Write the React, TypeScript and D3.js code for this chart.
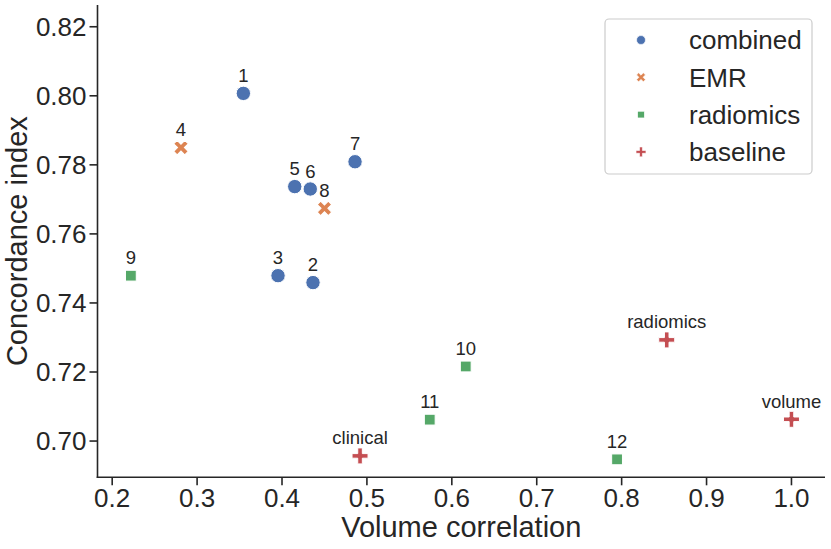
import * as d3 from "d3";
import * as React from "react";

// scatter data
const combinedLabels = ["1", "2", "3", "5", "6", "7"];
const combinedX = [0.3545, 0.4365, 0.3953, 0.415, 0.4333, 0.486];
const combinedY = [0.8007, 0.7459, 0.7479, 0.7737, 0.773, 0.7809];

const emrLabels = ["4", "8"];
const emrX = [0.281, 0.45];
const emrY = [0.785, 0.7674];

const radiomicsLabels = ["9", "10", "11", "12"];
const radiomicsX = [0.222, 0.6164, 0.574, 0.7946];
const radiomicsY = [0.7479, 0.7216, 0.7062, 0.6947];

const baselineLabels = ["clinical", "radiomics", "volume"];
const baselineX = [0.4919, 0.8531, 1.0];
const baselineY = [0.6957, 0.7293, 0.7063];

const groupNames = ["combined", "EMR", "radiomics", "baseline"];
const groupColors = ["#4C72B0", "#DD8452", "#55A868", "#C44E52"];

const xTicks = [0.2, 0.3, 0.4, 0.5, 0.6, 0.7, 0.8, 0.9, 1.0];
const yTicks = [0.7, 0.72, 0.74, 0.76, 0.78, 0.8, 0.82];

const W = 831;
const H = 549;
const ink = "#262626";
const font = "'Liberation Sans', Arial, sans-serif";

const x = d3.scaleLinear().domain([0.1827, 1.0395]).range([97.5, 825]);
const y = d3.scaleLinear().domain([0.6895, 0.8263]).range([477.3, 5]);

function plusPath(a: number, t: number) {
    const pts: [number, number][] = [
        [-t, -a], [t, -a], [t, -t], [a, -t], [a, t], [t, t],
        [t, a], [-t, a], [-t, t], [-a, t], [-a, -t], [-t, -t],
    ];
    return "M" + pts.map(p => p.join(",")).join("L") + "Z";
}

function Marker({ kind, cx, cy, k }: { kind: number; cx: number; cy: number; k: number }) {
    const fill = groupColors[kind];
    const common = { fill, stroke: "white", strokeWidth: 1 * k };
    if (kind === 0) return <circle cx={cx} cy={cy} r={7.2 * k} {...common} />;
    if (kind === 1)
        return <path d={plusPath(7.8 * k, 2.4 * k)} transform={`translate(${cx},${cy}) rotate(45)`} {...common} />;
    if (kind === 2) {
        const s = 10.8 * k;
        return <rect x={cx - s / 2} y={cy - s / 2} width={s} height={s} {...common} />;
    }
    return <path d={plusPath(8 * k, 2.3 * k)} transform={`translate(${cx},${cy})`} {...common} />;
}

const groups = [
    { labels: combinedLabels, xs: combinedX, ys: combinedY },
    { labels: emrLabels, xs: emrX, ys: emrY },
    { labels: radiomicsLabels, xs: radiomicsX, ys: radiomicsY },
    { labels: baselineLabels, xs: baselineX, ys: baselineY },
];

export default function App() {
    const [x0, x1] = x.range();
    const [y0, y1] = y.range();
    return (
        <div>
            <style>{`body{margin:0}`}</style>
            <svg width={W} height={H} style={{ display: "block", background: "white" }} fontFamily={font}>
                {/* spines */}
                <line x1={x0} x2={x0} y1={y1} y2={y0 + 0.8} stroke={ink} strokeWidth={1.6} />
                <line x1={x0 - 0.8} x2={x1} y1={y0} y2={y0} stroke={ink} strokeWidth={1.6} />

                {/* x axis */}
                {xTicks.map(t => (
                    <g key={"x" + t} transform={`translate(${x(t)},${y0})`}>
                        <line y1={0} y2={8} stroke={ink} strokeWidth={1.6} />
                        <text y={30} textAnchor="middle" fontSize={26} fill={ink}>{d3.format(".1f")(t)}</text>
                    </g>
                ))}
                <text x={(x0 + x1) / 2} y={536.5} textAnchor="middle" fontSize={29} fill={ink}>Volume correlation</text>

                {/* y axis */}
                {yTicks.map(t => (
                    <g key={"y" + t} transform={`translate(${x0},${y(t)})`}>
                        <line x1={0} x2={-8} stroke={ink} strokeWidth={1.6} />
                        <text x={-11} dy="0.36em" textAnchor="end" fontSize={26} fill={ink}>{d3.format(".2f")(t)}</text>
                    </g>
                ))}
                <text transform={`translate(27,${(y0 + y1) / 2}) rotate(-90)`} textAnchor="middle" fontSize={29} fill={ink}>
                    Concordance index
                </text>

                {/* points + annotations */}
                {groups.map((g, gi) => (
                    <g key={"g" + gi}>
                        {g.xs.map((v, i) => (
                            <g key={i}>
                                <Marker kind={gi} cx={x(v)} cy={y(g.ys[i])} k={1} />
                                <text x={x(v)} y={y(g.ys[i]) - 11.5} textAnchor="middle" fontSize={18.5} fill={ink}>
                                    {g.labels[i]}
                                </text>
                            </g>
                        ))}
                    </g>
                ))}

                {/* legend */}
                <rect x={605} y={19} width={207} height={155} rx={4} fill="white" fillOpacity={0.8} stroke="#cccccc" strokeWidth={1.2} />
                {groupNames.map((name, i) => (
                    <g key={name} transform={`translate(0,${40 + i * 37.3})`}>
                        <Marker kind={i} cx={641} cy={0} k={0.62} />
                        <text x={689} dy="0.36em" fontSize={26} fill={ink}>{name}</text>
                    </g>
                ))}
            </svg>
        </div>
    );
}
